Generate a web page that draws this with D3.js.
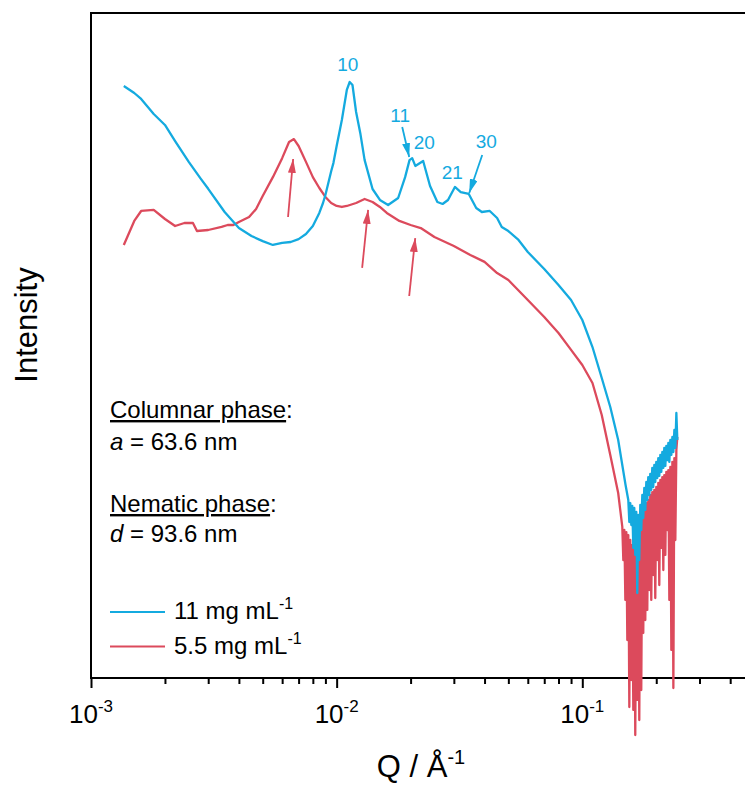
<!DOCTYPE html>
<html>
<head>
<meta charset="utf-8">
<script src="https://cdn.jsdelivr.net/npm/d3@7"></script>
<style>
  body { margin: 0; background: #fff; }
  text { font-family: "Liberation Sans", Arial, sans-serif; }
</style>
</head>
<body>
<div id="chart"></div>
<script>
const width = 745;
const height = 785;

const blueColor = "#14aadf";
const redColor = "#dc4a5c";

// [Q (1/Å), intensity (a.u.)]  11 mg/mL
const blue11 = [
  [0.00136, 832000], [0.0015, 708000], [0.0016, 617000], [0.0018, 437000], [0.002, 339000],
  [0.0022, 234000], [0.0025, 145000], [0.0028, 98000], [0.003, 78000], [0.0035, 45700],
  [0.004, 31600], [0.0045, 26300], [0.005, 23400], [0.0055, 21400], [0.006, 22400],
  [0.0065, 22900], [0.007, 24500], [0.0075, 27500], [0.008, 33100], [0.0085, 44700],
  [0.0088, 56200], [0.009, 67600], [0.0095, 117000], [0.0097, 141000], [0.01, 209000],
  [0.0105, 380000], [0.011, 759000], [0.0113, 912000], [0.0116, 851000], [0.012, 457000],
  [0.0125, 275000], [0.013, 151000], [0.014, 77600], [0.015, 60300], [0.0162, 53700],
  [0.0178, 63100], [0.019, 102000], [0.0198, 151000], [0.0203, 158000], [0.0209, 132000],
  [0.0225, 148000], [0.024, 83200], [0.0257, 57500], [0.027, 55000], [0.0284, 60300],
  [0.0303, 81300], [0.032, 72400], [0.0345, 69200], [0.037, 50100], [0.039, 45700],
  [0.042, 46800], [0.045, 39800], [0.047, 32400], [0.05, 29500], [0.055, 24000],
  [0.06, 18200], [0.07, 12300], [0.08, 8510], [0.09, 6030], [0.1, 3800],
  [0.11, 2040], [0.12, 1000], [0.13, 513], [0.14, 240], [0.15, 85],
  [0.1539, 60.3], [0.1554, 36.3], [0.1568, 56.2], [0.1583, 33.9], [0.1598, 52.5],
  [0.1613, 20.0], [0.1628, 50.1], [0.1643, 17.0], [0.1659, 45.7], [0.1674, 7.08],
  [0.1690, 42.7], [0.1706, 15.1], [0.1722, 53.7], [0.1738, 30.2], [0.1755, 67.6],
  [0.1771, 39.8], [0.1788, 79.4], [0.1805, 47.9], [0.1822, 91.2], [0.1839, 60.3],
  [0.1856, 102], [0.1874, 67.6], [0.1891, 110], [0.1909, 75.9], [0.1927, 126],
  [0.1945, 81.3], [0.1964, 135], [0.1982, 91.2], [0.2001, 145], [0.2020, 100],
  [0.2039, 158], [0.2058, 105], [0.2078, 170], [0.2097, 115], [0.2117, 182],
  [0.2137, 126], [0.2157, 200], [0.2178, 132], [0.2198, 209], [0.2219, 151],
  [0.2240, 224], [0.2261, 145], [0.2282, 240], [0.2304, 170], [0.2326, 257],
  [0.2348, 182], [0.2370, 302], [0.2392, 200], [0.2415, 447], [0.2437, 240]
];

// 5.5 mg/mL
const red55 = [
  [0.00136, 21400], [0.0015, 37200], [0.0016, 46800], [0.0018, 47900], [0.002, 38900],
  [0.0022, 33100], [0.0024, 35500], [0.0026, 35500], [0.0027, 29500], [0.003, 30200],
  [0.0034, 32400], [0.0036, 33900], [0.0038, 33900], [0.004, 36300], [0.0044, 40700],
  [0.0047, 49000], [0.005, 66100], [0.0055, 102000], [0.006, 158000], [0.0064, 229000],
  [0.0067, 245000], [0.007, 209000], [0.0075, 145000], [0.008, 102000], [0.0085, 79400],
  [0.009, 64600], [0.0095, 56200], [0.01, 52500], [0.0105, 51300], [0.011, 52500],
  [0.012, 56200], [0.013, 61700], [0.014, 57500], [0.015, 51300], [0.016, 44700],
  [0.018, 37200], [0.02, 33900], [0.022, 31600], [0.025, 25700], [0.03, 20900],
  [0.035, 17000], [0.04, 14500], [0.045, 11200], [0.05, 9550], [0.06, 6030],
  [0.07, 4070], [0.08, 2820], [0.09, 1910], [0.1, 1350], [0.11, 891],
  [0.12, 427], [0.13, 170], [0.14, 70.8],
  [0.1455, 32.4], [0.1469, 15.1], [0.1483, 30.2], [0.1497, 6.03], [0.1511, 28.8],
  [0.1525, 2.40], [0.1539, 26.9], [0.1554, 0.513], [0.1568, 24.0], [0.1583, 0.955],
  [0.1598, 21.4], [0.1613, 0.479], [0.1628, 22.9], [0.1643, 0.269], [0.1659, 20.0],
  [0.1674, 0.603], [0.1690, 24.0], [0.1706, 0.380], [0.1722, 33.9], [0.1738, 0.759],
  [0.1755, 42.7], [0.1771, 2.82], [0.1788, 47.9], [0.1805, 3.80], [0.1822, 56.2],
  [0.1839, 4.79], [0.1856, 60.3], [0.1874, 7.59], [0.1891, 67.6], [0.1909, 6.03],
  [0.1927, 72.4], [0.1945, 10.7], [0.1964, 75.9], [0.1982, 6.31], [0.2001, 81.3],
  [0.2020, 15.1], [0.2039, 89.1], [0.2058, 8.51], [0.2078, 95.5], [0.2097, 20.0],
  [0.2117, 102], [0.2137, 12.0], [0.2157, 107], [0.2178, 17.0], [0.2198, 115],
  [0.2219, 30.2], [0.2240, 120], [0.2261, 6.03], [0.2282, 129], [0.2304, 1.91],
  [0.2326, 145], [0.2348, 0.794], [0.2370, 158], [0.2392, 24.0], [0.2415, 191],
  [0.2437, 257]
];

const majorTicks = [0.001, 0.01, 0.1];
const majorExponents = ["-3", "-2", "-1"];
const minorTicks = [0.002, 0.003, 0.004, 0.005, 0.006, 0.007, 0.008, 0.009,
  0.02, 0.03, 0.04, 0.05, 0.06, 0.07, 0.08, 0.09, 0.2, 0.3, 0.4];

// peak indexing of the columnar phase
const peakLabels = [
  {text: "10", q: 0.0111, i: 1170000},
  {text: "11", q: 0.01814, i: 363000},
  {text: "20", q: 0.02272, i: 195000},
  {text: "21", q: 0.02955, i: 97700},
  {text: "30", q: 0.04064, i: 200000}
];
// arrows: [tail, head] in [Q, I]
const blueArrows = [
  [[0.01849, 324000], [0.01974, 162000]],
  [[0.03914, 170000], [0.03465, 70800]]
];
const redArrows = [
  [[0.00634, 40700], [0.00665, 155000]],
  [[0.0127, 12600], [0.01343, 47900]],
  [[0.01974, 6610], [0.02089, 25100]]
];

const legendItems = [
  {label: "11 mg mL", color: blueColor},
  {label: "5.5 mg mL", color: redColor}
];

const svg = d3.select("#chart")
    .append("svg")
    .attr("width", width)
    .attr("height", height);

const x = d3.scaleLog().domain([0.001, 0.5]).range([91, 754]);
const y = d3.scaleLog().domain([1, 4466836]).range([678, 13]);

const defs = svg.append("defs");
const addMarker = (id, color) => {
  defs.append("marker")
      .attr("id", id)
      .attr("viewBox", "0 0 14 8")
      .attr("refX", 14)
      .attr("refY", 4)
      .attr("markerWidth", 14)
      .attr("markerHeight", 8)
      .attr("markerUnits", "userSpaceOnUse")
      .attr("orient", "auto")
      .append("path")
      .attr("d", "M0,0 L14,4 L0,8 Z")
      .attr("fill", color);
}
addMarker("headBlue", blueColor);
addMarker("headRed", redColor);

// frame
svg.append("rect")
    .attr("x", x.range()[0])
    .attr("y", y.range()[1])
    .attr("width", x.range()[1] - x.range()[0])
    .attr("height", y.range()[0] - y.range()[1])
    .attr("fill", "none")
    .attr("stroke", "black")
    .attr("stroke-width", 2);

// bottom ticks
const gMinor = svg.append("g")
    .attr("transform", `translate(0,${y.range()[0]})`)
    .call(d3.axisBottom(x).tickValues(minorTicks).tickSize(6).tickFormat(""));
const gMajor = svg.append("g")
    .attr("transform", `translate(0,${y.range()[0]})`)
    .call(d3.axisBottom(x).tickValues(majorTicks).tickSize(10).tickFormat(""));
[gMinor, gMajor].forEach(g => {
  g.select(".domain").remove();
  g.selectAll(".tick line").attr("stroke", "black").attr("stroke-width", 2);
});

const tickText = svg.append("g").selectAll("text")
    .data(majorTicks)
    .join("text")
    .attr("x", d => x(d))
    .attr("y", 723)
    .attr("text-anchor", "middle")
    .attr("font-size", 26);
tickText.append("tspan").text("10");
tickText.append("tspan")
    .attr("font-size", 17)
    .attr("dy", -11)
    .text((d, i) => majorExponents[i]);

// axis titles
const xTitle = svg.append("text")
    .attr("x", 421)
    .attr("y", 777)
    .attr("text-anchor", "middle")
    .attr("font-size", 31);
xTitle.append("tspan").text("Q / Å");
xTitle.append("tspan").attr("font-size", 20).attr("dy", -13).text("-1");

svg.append("text")
    .attr("transform", "translate(37,325) rotate(-90)")
    .attr("text-anchor", "middle")
    .attr("font-size", 31)
    .text("Intensity");

// curves
const line = d3.line()
    .x(d => x(d[0]))
    .y(d => y(d[1]));

svg.append("path")
    .datum(red55)
    .attr("d", line)
    .attr("fill", "none")
    .attr("stroke", redColor)
    .attr("stroke-width", 2.3)
    .attr("stroke-linejoin", "round");

svg.append("path")
    .datum(blue11)
    .attr("d", line)
    .attr("fill", "none")
    .attr("stroke", blueColor)
    .attr("stroke-width", 2.3)
    .attr("stroke-linejoin", "round");

// arrows
const drawArrows = (arrows, color, marker) => {
  svg.append("g").selectAll("line")
      .data(arrows)
      .join("line")
      .attr("x1", d => x(d[0][0]))
      .attr("y1", d => y(d[0][1]))
      .attr("x2", d => x(d[1][0]))
      .attr("y2", d => y(d[1][1]))
      .attr("stroke", color)
      .attr("stroke-width", 1.8)
      .attr("marker-end", `url(#${marker})`);
}
drawArrows(redArrows, redColor, "headRed");
drawArrows(blueArrows, blueColor, "headBlue");

svg.append("g").selectAll("text")
    .data(peakLabels)
    .join("text")
    .attr("x", d => x(d.q))
    .attr("y", d => y(d.i))
    .attr("text-anchor", "middle")
    .attr("font-size", 19)
    .attr("fill", blueColor)
    .text(d => d.text);

// phase notes
const note = (yPos, parts) => {
  const t = svg.append("text")
      .attr("x", 110)
      .attr("y", yPos)
      .attr("font-size", 24);
  parts.forEach(p => {
    const s = t.append("tspan").text(p.text);
    if (p.underline) s.style("text-decoration", "underline");
    if (p.italic) s.attr("font-style", "italic");
  });
}
note(418, [{text: "Columnar phase", underline: true}, {text: ":"}]);
note(450, [{text: "a", italic: true}, {text: " = 63.6 nm"}]);
note(512, [{text: "Nematic phase", underline: true}, {text: ":"}]);
note(542, [{text: "d", italic: true}, {text: " = 93.6 nm"}]);

// legend
const legend = svg.append("g").selectAll("g")
    .data(legendItems)
    .join("g")
    .attr("transform", (d, i) => `translate(110,${612 + i * 34.5})`);
legend.append("line")
    .attr("x1", 0)
    .attr("x2", 55)
    .attr("stroke", d => d.color)
    .attr("stroke-width", 2);
const legendText = legend.append("text")
    .attr("x", 64)
    .attr("y", 7)
    .attr("font-size", 24);
legendText.append("tspan").text(d => d.label);
legendText.append("tspan").attr("font-size", 16).attr("dy", -10).text("-1");
</script>
</body>
</html>
